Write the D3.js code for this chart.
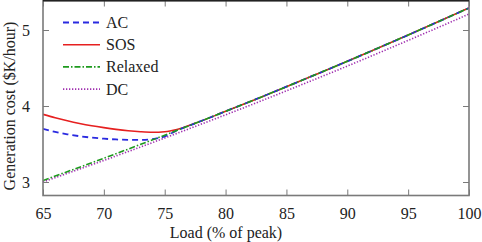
<!DOCTYPE html>
<html><head><meta charset="utf-8">
<script src="https://cdn.jsdelivr.net/npm/d3@7"></script>
<style>html,body{margin:0;padding:0;background:#fff;}svg{display:block;}</style>
</head><body>
<svg id="c" width="482" height="242"></svg>
<script>
const seriesNames = ["AC", "SOS", "Relaxed", "DC"];
const acLoad = [65, 66, 67, 68, 69, 70, 71, 72, 73, 74, 75, 76, 77.5, 80, 82.5, 85, 87.5, 90, 92.5, 95, 97.5, 100];
const acCost = [3.70, 3.66, 3.628, 3.603, 3.584, 3.57, 3.56, 3.554, 3.553, 3.565, 3.60, 3.678, 3.772, 3.93, 4.09, 4.254, 4.42, 4.588, 4.76, 4.934, 5.111, 5.29];
const sosLoad = [65, 66, 67, 68, 69, 70, 71, 72, 73, 74, 75, 76, 77.5, 80, 82.5, 85, 87.5, 90, 92.5, 95, 97.5, 100];
const sosCost = [3.89, 3.845, 3.805, 3.77, 3.74, 3.715, 3.693, 3.675, 3.662, 3.655, 3.662, 3.692, 3.772, 3.93, 4.09, 4.254, 4.42, 4.588, 4.76, 4.934, 5.111, 5.29];
const relaxedLoad = [65, 67.5, 70, 72.5, 75, 77.5, 80, 82.5, 85, 87.5, 90, 92.5, 95, 97.5, 100];
const relaxedCost = [3.02, 3.165, 3.313, 3.463, 3.616, 3.772, 3.93, 4.09, 4.254, 4.42, 4.588, 4.76, 4.934, 5.111, 5.29];
const dcLoad = [65, 67.5, 70, 72.5, 75, 77.5, 80, 82.5, 85, 87.5, 90, 92.5, 95, 97.5, 100];
const dcCost = [3.00, 3.141, 3.284, 3.43, 3.579, 3.731, 3.884, 4.04, 4.20, 4.361, 4.525, 4.693, 4.863, 5.035, 5.21];
const xTicks = [65, 70, 75, 80, 85, 90, 95, 100];
const yTicks = [3, 4, 5];
const xLabel = "Load (% of peak)";
const yLabel = "Generation cost ($K/hour)";

const L = 43, R = 469, T = 0.5, B = 195.5;
const x = d3.scaleLinear().domain([65, 100]).range([L, R]);
const y = d3.scaleLinear().domain([3, 5]).range([182, 30]);

const svg = d3.select("#c");
const font = "Liberation Serif";
const fs = 16;

const styles = [
  {color: "#2a2ae0", dash: "6,4", w: 1.8},
  {color: "#e62020", dash: null, w: 1.6},
  {color: "#1e9a1e", dash: "6,2,1.5,2", w: 1.6},
  {color: "#a030b0", dash: "1.3,1.7", w: 1.6}
];
const data = [
  acLoad.map((l, i) => [l, acCost[i]]),
  sosLoad.map((l, i) => [l, sosCost[i]]),
  relaxedLoad.map((l, i) => [l, relaxedCost[i]]),
  dcLoad.map((l, i) => [l, dcCost[i]])
];

const g = svg.append("g");
g.append("clipPath").attr("id", "clip").append("rect")
  .attr("x", L).attr("y", T).attr("width", R - L).attr("height", B - T);

const line = d3.line().x(d => x(d[0])).y(d => y(d[1])).curve(d3.curveMonotoneX);
[3, 1, 0, 2].forEach(i => {
  g.append("path").datum(data[i]).attr("clip-path", "url(#clip)")
    .attr("d", line).attr("fill", "none")
    .attr("stroke", styles[i].color).attr("stroke-width", styles[i].w)
    .attr("stroke-dasharray", styles[i].dash);
});

const axisColor = "#7a7a7a";
const fmt = d3.format("d");
const xb = svg.append("g").attr("transform", `translate(0,${B})`)
  .call(d3.axisBottom(x).tickValues(xTicks).tickFormat(fmt).tickSizeInner(-6).tickSizeOuter(0).tickPadding(12));
const xt = svg.append("g").attr("transform", `translate(0,${T})`)
  .call(d3.axisTop(x).tickValues(xTicks).tickSizeInner(-6).tickSizeOuter(0).tickFormat(""));
const yl = svg.append("g").attr("transform", `translate(${L},0)`)
  .call(d3.axisLeft(y).tickValues(yTicks).tickFormat(fmt).tickSizeInner(-6).tickSizeOuter(0).tickPadding(13));
const yr = svg.append("g").attr("transform", `translate(${R},0)`)
  .call(d3.axisRight(y).tickValues(yTicks).tickSizeInner(-6).tickSizeOuter(0).tickFormat(""));
[xb, xt, yl, yr].forEach(a => {
  a.attr("font-family", font).attr("font-size", fs);
  a.selectAll(".domain").remove();
  a.selectAll(".tick line").attr("stroke", axisColor).attr("stroke-width", 1);
  a.selectAll(".tick text").attr("fill", "#222");
});
xb.selectAll(".tick text").attr("dy", "0.7em");
svg.append("rect").attr("x", L).attr("y", T).attr("width", R - L).attr("height", B - T)
  .attr("fill", "none").attr("stroke", axisColor).attr("stroke-width", 1.6);
svg.append("line").attr("x1", L).attr("x2", R).attr("y1", T).attr("y2", T)
  .attr("stroke", "#222").attr("stroke-width", 2);

svg.append("text").attr("x", 226).attr("y", 238).attr("text-anchor", "middle")
  .attr("font-family", font).attr("font-size", fs).attr("fill", "#222").text(xLabel);
svg.append("text").attr("transform", `translate(15,106) rotate(-90)`).attr("text-anchor", "middle")
  .attr("font-family", font).attr("font-size", fs).attr("fill", "#222").text(yLabel);

const lg = svg.append("g");
seriesNames.forEach((n, i) => {
  const yy = 22.5 + i * 22.2;
  lg.append("line").attr("x1", 63).attr("x2", 100).attr("y1", yy).attr("y2", yy)
    .attr("stroke", styles[i].color).attr("stroke-width", styles[i].w)
    .attr("stroke-dasharray", styles[i].dash);
  lg.append("text").attr("x", 106).attr("y", yy + 5.5).attr("font-family", font)
    .attr("font-size", fs).attr("fill", "#222").text(n);
});
</script>
</body></html>
